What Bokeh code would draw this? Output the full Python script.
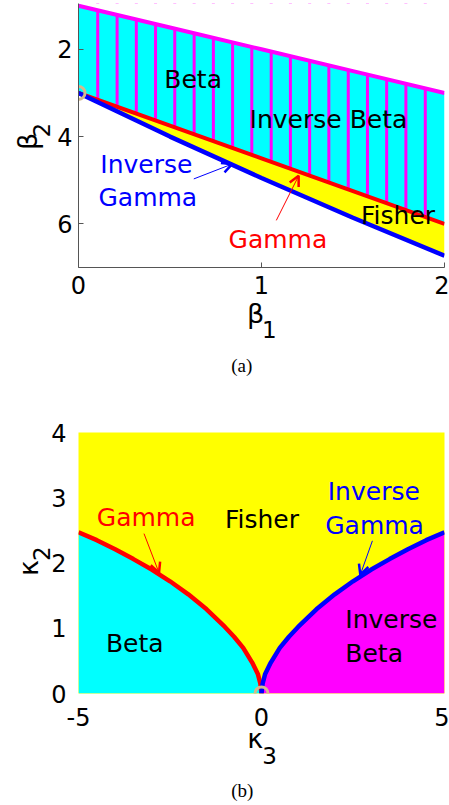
import numpy as np
from bokeh.plotting import figure
from bokeh.models import Range1d, FixedTicker, Label, Arrow, OpenHead
from bokeh.layouts import column
from bokeh.embed import file_html
from bokeh.resources import INLINE

# ---------------- data: panel (a) ----------------
b1 = [0.0, 0.5, 1.0, 1.5, 2.0]
upper_limit = [1.0, 1.5, 2.0, 2.5, 3.0]          # magenta boundary
gamma_line = [3.0, 3.75, 4.5, 5.25, 6.0]          # red (Gamma)
invgamma_line = [3.0, 4.0, 4.95, 5.86, 6.73]      # blue (Inverse Gamma)
stripe_b1 = [0.105, 0.211, 0.316, 0.421, 0.526, 0.632, 0.737, 0.842, 0.947,
             1.053, 1.158, 1.263, 1.368, 1.474, 1.579, 1.684, 1.789, 1.895]
point_a = ([0.0], [3.0])
xticks_a = [0, 1, 2]
yticks_a = [2, 4, 6]

labels_a_text = ["Beta", "Inverse Beta", "Fisher", "Inverse", "Gamma", "Gamma"]
labels_a_x = [0.469, 0.935, 1.544, 0.119, 0.109, 0.82]
labels_a_y = [2.697, 3.607, 5.817, 4.637, 5.397, 6.347]
labels_a_col = ["black", "black", "black", "blue", "blue", "red"]
arrows_a = [  # x_start, y_start, x_end, y_end, color
    (0.63, 4.97, 0.839, 4.63, "blue"),
    (1.081, 5.92, 1.203, 4.90, "red"),
]

# ---------------- data: panel (b) ----------------
k3_mag = [0.0, 0.03, 0.1, 0.25, 0.5, 0.75, 1.0, 1.5, 2.0, 2.5, 3.0, 3.5, 4.0,
          4.5, 5.0]
k2_curve = [0.0, 0.15, 0.30, 0.47, 0.70, 0.87, 1.02, 1.29, 1.52, 1.72, 1.90,
            2.06, 2.21, 2.35, 2.47]
k3_left = [-v for v in k3_mag]
k2_gamma = list(k2_curve)
k3_right = list(k3_mag)
k2_invgamma = list(k2_curve)
point_b = ([0.0], [0.0])
xticks_b = [-5, 0, 5]
yticks_b = [0, 1, 2, 3, 4]

labels_b_text = ["Gamma", "Fisher", "Beta", "Inverse", "Gamma", "Inverse", "Beta"]
labels_b_x = [-4.5, -1.0, -4.25, 1.81, 1.74, 2.29, 2.29]
labels_b_y = [2.693, 2.663, 0.763, 3.093, 2.573, 1.133, 0.613]
labels_b_col = ["red", "black", "black", "blue", "blue", "black", "black"]
arrows_b = [
    (-3.21, 2.45, -2.8, 1.85, "red"),
    (3.03, 2.34, 2.70, 1.82, "blue"),
]

FONT = "DejaVu Sans"
CYAN, MAG, YEL, RED, BLUE = "#00FFFF", "#FF00FF", "#FFFF00", "#FF0000", "#0000FF"
RING = "#D6B98C"


def style(p, xt, yt, show_axis_lines):
    p.xaxis.ticker = FixedTicker(ticks=xt)
    p.yaxis.ticker = FixedTicker(ticks=yt)
    p.xaxis.major_label_overrides = {t: str(t) for t in xt}
    p.yaxis.major_label_overrides = {t: str(t) for t in yt}
    for ax in (p.xaxis[0], p.yaxis[0]):
        ax.major_label_text_font = FONT
        ax.major_label_text_font_size = "24px"
        ax.major_label_text_color = "black"
        ax.minor_tick_line_color = None
        if show_axis_lines:
            ax.axis_line_color = "#555555"
            ax.major_tick_line_color = "#555555"
            ax.major_tick_in = 5
            ax.major_tick_out = 0
        else:
            ax.axis_line_color = None
            ax.major_tick_line_color = None
    p.xaxis.major_label_standoff = 8
    p.yaxis.major_label_standoff = 6
    p.xgrid.visible = False
    p.ygrid.visible = False
    p.outline_line_color = None


def make_label(x, y, text, color="black", size="25px", font=FONT, angle=0.0,
               align="left"):
    return Label(x=x, y=y, text=text, text_color=color, text_font_size=size,
                 text_font=font, angle=angle, text_align=align,
                 text_baseline="alphabetic")


# ---------------- panel (a) ----------------
p1 = figure(width=449, height=420, x_range=Range1d(0, 2), y_range=Range1d(7, 0.95),
            output_backend="svg", toolbar_location=None, title=None,
            min_border_left=78, min_border_right=5, min_border_top=3,
            min_border_bottom=153)
style(p1, xticks_a, yticks_a, True)

p1.varea(x=b1, y1=upper_limit, y2=gamma_line, fill_color=CYAN)
p1.segment(x0=stripe_b1, y0=[0.0] * len(stripe_b1), x1=stripe_b1,
           y1=[8.0] * len(stripe_b1), line_color=MAG, line_width=3)
p1.varea(x=b1, y1=0.0, y2=upper_limit, fill_color="white")
p1.varea(x=b1, y1=gamma_line, y2=invgamma_line, fill_color=YEL)
p1.varea(x=b1, y1=invgamma_line, y2=8.0, fill_color="white")
p1.line(b1, upper_limit, line_color=MAG, line_width=4)
p1.line(b1, gamma_line, line_color=RED, line_width=4)
p1.line(b1, invgamma_line, line_color=BLUE, line_width=4.5)
p1.scatter(point_a[0], point_a[1], marker="circle", size=13, fill_color=None,
           line_color=RING, line_width=3)

for t, x, y, c in zip(labels_a_text, labels_a_x, labels_a_y, labels_a_col):
    p1.add_layout(make_label(x, y, t, c))
for xs, ys, xe, ye, c in arrows_a:
    p1.add_layout(Arrow(x_start=xs, y_start=ys, x_end=xe, y_end=ye, line_color=c,
                        line_width=1,
                        end=OpenHead(size=10, line_color=c, line_width=2.5)))

# axis labels (beta_1, beta_2) and caption, in side panels (not clipped)
p1.add_layout(make_label(0.921, 8.048, "β", size="27px"), "below")
p1.add_layout(make_label(1.003, 8.42, "1", size="23px"), "below")
p1.add_layout(make_label(0.892, 9.236, "(a)", size="19px", font="Liberation Serif",
                         align="center"), "below")
p1.add_layout(make_label(-0.279, 4.31, "β", size="27px", angle=np.pi / 2), "left")
p1.add_layout(make_label(-0.204, 4.02, "2", size="23px", angle=np.pi / 2), "left")

# ---------------- panel (b) ----------------
p2 = figure(width=449, height=385, x_range=Range1d(-5, 5), y_range=Range1d(0, 4),
            output_backend="svg", toolbar_location=None, title=None,
            min_border_left=78, min_border_right=5, min_border_top=12,
            min_border_bottom=112)
style(p2, xticks_b, yticks_b, False)
p2.background_fill_color = YEL

p2.varea(x=k3_left, y1=0.0, y2=k2_gamma, fill_color=CYAN)
p2.varea(x=k3_right, y1=0.0, y2=k2_invgamma, fill_color=MAG)
p2.line(k3_left, k2_gamma, line_color=RED, line_width=4.5, line_join="round")
p2.line(k3_right, k2_invgamma, line_color=BLUE, line_width=4.5, line_join="round")
p2.scatter(point_b[0], point_b[1], marker="circle", size=13, fill_color=None,
           line_color=RING, line_width=3)

for t, x, y, c in zip(labels_b_text, labels_b_x, labels_b_y, labels_b_col):
    p2.add_layout(make_label(x, y, t, c))
for xs, ys, xe, ye, c in arrows_b:
    p2.add_layout(Arrow(x_start=xs, y_start=ys, x_end=xe, y_end=ye, line_color=c,
                        line_width=1,
                        end=OpenHead(size=10, line_color=c, line_width=2.5)))

p2.add_layout(make_label(-0.39, -0.696, "κ", size="27px"), "below")
p2.add_layout(make_label(0.019, -0.944, "3", size="23px"), "below")
p2.add_layout(make_label(-0.527, -1.49, "(b)", size="19px", font="Liberation Serif",
                         align="center"), "below")
p2.add_layout(make_label(-6.365, 1.80, "κ", size="27px", angle=np.pi / 2), "left")
p2.add_layout(make_label(-6.012, 2.03, "2", size="23px", angle=np.pi / 2), "left")

layout = column(p1, p2, spacing=0)
open("out.html", "w").write(file_html(layout, INLINE))
